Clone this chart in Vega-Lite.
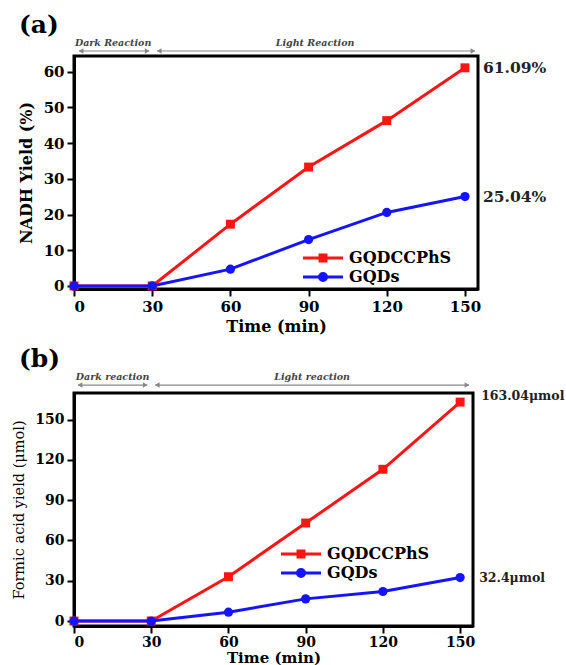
{
  "$schema": "https://vega.github.io/schema/vega-lite/v6.json",
  "background": "white",
  "padding": {"left": 10, "top": 11, "right": 0, "bottom": 0},
  "config": {
    "font": "DejaVu Serif",
    "view": {"stroke": "black", "strokeWidth": 3},
    "axis": {
      "labelFont": "DejaVu Serif", "labelFontWeight": "bold", "labelFontSize": 15, "labelColor": "black",
      "domainColor": "black", "domainWidth": 3, "tickColor": "black", "tickWidth": 2, "tickSize": 7,
      "grid": false, "titleFont": "DejaVu Serif", "titleFontWeight": "bold", "titleFontSize": 16,
      "titleColor": "black", "labelPadding": 3, "labelOverlap": false
    },
    "legend": {
      "orient": "none", "title": null, "padding": 0,
      "labelFont": "DejaVu Serif", "labelFontSize": 16, "labelFontWeight": "bold", "labelColor": "black",
      "symbolSize": 100, "labelOffset": 18, "rowPadding": 0, "symbolStrokeWidth": 3
    },
    "title": {"font": "DejaVu Serif", "fontSize": 25, "fontWeight": "bold", "anchor": "start", "frame": "group", "color": "black"}
  },
  "datasets": {
    "a": [
      {"time": 0, "yield": 0, "series": "GQDCCPhS"},
      {"time": 30, "yield": 0, "series": "GQDCCPhS"},
      {"time": 60, "yield": 17.3, "series": "GQDCCPhS"},
      {"time": 90, "yield": 33.3, "series": "GQDCCPhS"},
      {"time": 120, "yield": 46.3, "series": "GQDCCPhS"},
      {"time": 150, "yield": 61.09, "series": "GQDCCPhS"},
      {"time": 0, "yield": 0, "series": "GQDs"},
      {"time": 30, "yield": 0, "series": "GQDs"},
      {"time": 60, "yield": 4.7, "series": "GQDs"},
      {"time": 90, "yield": 13.0, "series": "GQDs"},
      {"time": 120, "yield": 20.6, "series": "GQDs"},
      {"time": 150, "yield": 25.04, "series": "GQDs"}
    ],
    "b": [
      {"time": 0, "yield": 0, "series": "GQDCCPhS"},
      {"time": 30, "yield": 0, "series": "GQDCCPhS"},
      {"time": 60, "yield": 33.0, "series": "GQDCCPhS"},
      {"time": 90, "yield": 73.0, "series": "GQDCCPhS"},
      {"time": 120, "yield": 113.0, "series": "GQDCCPhS"},
      {"time": 150, "yield": 163.04, "series": "GQDCCPhS"},
      {"time": 0, "yield": 0, "series": "GQDs"},
      {"time": 30, "yield": 0, "series": "GQDs"},
      {"time": 60, "yield": 6.6, "series": "GQDs"},
      {"time": 90, "yield": 16.5, "series": "GQDs"},
      {"time": 120, "yield": 22.0, "series": "GQDs"},
      {"time": 150, "yield": 32.4, "series": "GQDs"}
    ],
    "phaseA": [
      {"start": 0, "end": 30, "label": "Dark Reaction"},
      {"start": 30, "end": 155, "label": "Light Reaction"}
    ],
    "phaseB": [
      {"start": 0, "end": 30, "label": "Dark reaction"},
      {"start": 30, "end": 155, "label": "Light reaction"}
    ],
    "endA": [
      {"time": 150, "yield": 61.09, "label": "61.09%"},
      {"time": 150, "yield": 25.04, "label": "25.04%"}
    ],
    "endB": [
      {"time": 150, "yield": 163.04, "label": "163.04μmol"},
      {"time": 150, "yield": 32.4, "label": "32.4μmol"}
    ]
  },
  "spacing": 104,
  "bounds": "flush",
  "resolve": {
    "scale": {"fill": "independent", "stroke": "independent", "shape": "independent"},
    "legend": {"fill": "independent", "stroke": "independent", "shape": "independent"}
  },
  "vconcat": [
    {
      "width": 404,
      "height": 233,
      "title": {"text": "(a)", "dx": -55, "offset": 0},
      "layer": [
        {
          "data": {"name": "a"},
          "transform": [{"filter": "false"}],
          "mark": {"type": "point", "filled": true, "strokeWidth": 3, "opacity": 1},
          "encoding": {
            "x": {"field": "time", "type": "quantitative", "scale": {"domain": [0, 155], "nice": false},
                  "axis": {"values": [0, 30, 60, 90, 120, 150], "title": "Time (min)", "titlePadding": 4}},
            "y": {"field": "yield", "type": "quantitative", "scale": {"domain": [-0.85, 64.4], "nice": false, "zero": false},
                  "axis": {"values": [0, 10, 20, 30, 40, 50, 60], "title": "NADH Yield (%)", "titlePadding": 9}},
            "fill": {"field": "series", "type": "nominal", "scale": {"domain": ["GQDCCPhS", "GQDs"], "range": ["#ff1414", "#1414ff"]},
                     "legend": {"legendX": 241, "legendY": 194}},
            "stroke": {"field": "series", "type": "nominal", "scale": {"domain": ["GQDCCPhS", "GQDs"], "range": ["#ff1414", "#1414ff"]},
                       "legend": {"legendX": 241, "legendY": 194}},
            "shape": {"field": "series", "type": "nominal",
                      "scale": {"domain": ["GQDCCPhS", "GQDs"], "range": ["M-4,0H4M-0.6,-0.6H0.6V0.6H-0.6Z", "M-4,0H4M0.7,0A0.7,0.7,0,1,1,-0.7,0A0.7,0.7,0,1,1,0.7,0Z"]},
                      "legend": {"legendX": 241, "legendY": 194}}
          }
        },
        {
          "mark": {"type": "rule", "color": "#5b8fd6", "strokeDash": [2, 2], "strokeWidth": 2},
          "encoding": {"x": {"datum": 30, "type": "quantitative", "scale": {"domain": [0, 155], "nice": false},
                             "axis": {"values": [0, 30, 60, 90, 120, 150], "title": "Time (min)", "titlePadding": 4}}}
        },
        {
          "data": {"name": "phaseA"},
          "mark": {"type": "rule", "color": "#888888", "strokeWidth": 1.2, "xOffset": 5, "x2Offset": -3},
          "encoding": {
            "x": {"field": "start", "type": "quantitative", "scale": {"domain": [0, 155], "nice": false},
                  "axis": {"values": [0, 30, 60, 90, 120, 150], "title": "Time (min)", "titlePadding": 4}},
            "x2": {"field": "end"},
            "y": {"datum": 65.8, "type": "quantitative", "scale": {"domain": [-0.85, 64.4], "nice": false, "zero": false},
                  "axis": {"values": [0, 10, 20, 30, 40, 50, 60], "title": "NADH Yield (%)", "titlePadding": 9}}
          }
        },
        {
          "data": {"name": "phaseA"},
          "mark": {"type": "point", "shape": "triangle-left", "filled": true, "color": "#888888", "size": 30, "xOffset": 7, "opacity": 1},
          "encoding": {
            "x": {"field": "start", "type": "quantitative", "scale": {"domain": [0, 155], "nice": false},
                  "axis": {"values": [0, 30, 60, 90, 120, 150], "title": "Time (min)", "titlePadding": 4}},
            "y": {"datum": 65.8, "type": "quantitative", "scale": {"domain": [-0.85, 64.4], "nice": false, "zero": false},
                  "axis": {"values": [0, 10, 20, 30, 40, 50, 60], "title": "NADH Yield (%)", "titlePadding": 9}}
          }
        },
        {
          "data": {"name": "phaseA"},
          "mark": {"type": "point", "shape": "triangle-right", "filled": true, "color": "#888888", "size": 30, "xOffset": -5, "opacity": 1},
          "encoding": {
            "x": {"field": "end", "type": "quantitative", "scale": {"domain": [0, 155], "nice": false},
                  "axis": {"values": [0, 30, 60, 90, 120, 150], "title": "Time (min)", "titlePadding": 4}},
            "y": {"datum": 65.8, "type": "quantitative", "scale": {"domain": [-0.85, 64.4], "nice": false, "zero": false},
                  "axis": {"values": [0, 10, 20, 30, 40, 50, 60], "title": "NADH Yield (%)", "titlePadding": 9}}
          }
        },
        {
          "data": {"name": "phaseA"},
          "transform": [{"calculate": "(datum.start + datum.end) / 2", "as": "mid"}],
          "mark": {"type": "text", "font": "DejaVu Serif", "fontStyle": "italic", "fontWeight": "bold", "fontSize": 9.5, "color": "#444444", "baseline": "middle"},
          "encoding": {
            "x": {"field": "mid", "type": "quantitative", "scale": {"domain": [0, 155], "nice": false},
                  "axis": {"values": [0, 30, 60, 90, 120, 150], "title": "Time (min)", "titlePadding": 4}},
            "y": {"datum": 68.0, "type": "quantitative", "scale": {"domain": [-0.85, 64.4], "nice": false, "zero": false},
                  "axis": {"values": [0, 10, 20, 30, 40, 50, 60], "title": "NADH Yield (%)", "titlePadding": 9}},
            "text": {"field": "label"}
          }
        },
        {
          "data": {"name": "a"},
          "transform": [{"filter": "datum.series === 'GQDCCPhS'"}],
          "mark": {"type": "line", "strokeWidth": 3, "color": "#ff1414"},
          "encoding": {
            "x": {"field": "time", "type": "quantitative", "scale": {"domain": [0, 155], "nice": false},
                  "axis": {"values": [0, 30, 60, 90, 120, 150], "title": "Time (min)", "titlePadding": 4}},
            "y": {"field": "yield", "type": "quantitative", "scale": {"domain": [-0.85, 64.4], "nice": false, "zero": false},
                  "axis": {"values": [0, 10, 20, 30, 40, 50, 60], "title": "NADH Yield (%)", "titlePadding": 9}}
          }
        },
        {
          "data": {"name": "a"},
          "transform": [{"filter": "datum.series === 'GQDCCPhS'"}],
          "mark": {"type": "point", "shape": "square", "filled": true, "opacity": 1, "size": 80, "color": "#ff1414"},
          "encoding": {
            "x": {"field": "time", "type": "quantitative", "scale": {"domain": [0, 155], "nice": false},
                  "axis": {"values": [0, 30, 60, 90, 120, 150], "title": "Time (min)", "titlePadding": 4}},
            "y": {"field": "yield", "type": "quantitative", "scale": {"domain": [-0.85, 64.4], "nice": false, "zero": false},
                  "axis": {"values": [0, 10, 20, 30, 40, 50, 60], "title": "NADH Yield (%)", "titlePadding": 9}}
          }
        },
        {
          "data": {"name": "a"},
          "transform": [{"filter": "datum.series === 'GQDs'"}],
          "mark": {"type": "line", "strokeWidth": 3, "color": "#1414ff"},
          "encoding": {
            "x": {"field": "time", "type": "quantitative", "scale": {"domain": [0, 155], "nice": false},
                  "axis": {"values": [0, 30, 60, 90, 120, 150], "title": "Time (min)", "titlePadding": 4}},
            "y": {"field": "yield", "type": "quantitative", "scale": {"domain": [-0.85, 64.4], "nice": false, "zero": false},
                  "axis": {"values": [0, 10, 20, 30, 40, 50, 60], "title": "NADH Yield (%)", "titlePadding": 9}}
          }
        },
        {
          "data": {"name": "a"},
          "transform": [{"filter": "datum.series === 'GQDs'"}],
          "mark": {"type": "point", "shape": "circle", "filled": true, "opacity": 1, "size": 85, "color": "#1414ff"},
          "encoding": {
            "x": {"field": "time", "type": "quantitative", "scale": {"domain": [0, 155], "nice": false},
                  "axis": {"values": [0, 30, 60, 90, 120, 150], "title": "Time (min)", "titlePadding": 4}},
            "y": {"field": "yield", "type": "quantitative", "scale": {"domain": [-0.85, 64.4], "nice": false, "zero": false},
                  "axis": {"values": [0, 10, 20, 30, 40, 50, 60], "title": "NADH Yield (%)", "titlePadding": 9}}
          }
        },
        {
          "data": {"name": "endA"},
          "mark": {"type": "text", "align": "left", "baseline": "middle", "dx": 18, "font": "DejaVu Serif", "fontWeight": "bold", "fontSize": 15.5, "color": "#222222"},
          "encoding": {
            "x": {"field": "time", "type": "quantitative", "scale": {"domain": [0, 155], "nice": false},
                  "axis": {"values": [0, 30, 60, 90, 120, 150], "title": "Time (min)", "titlePadding": 4}},
            "y": {"field": "yield", "type": "quantitative", "scale": {"domain": [-0.85, 64.4], "nice": false, "zero": false},
                  "axis": {"values": [0, 10, 20, 30, 40, 50, 60], "title": "NADH Yield (%)", "titlePadding": 9}},
            "text": {"field": "label"}
          }
        }
      ]
    },
    {
      "width": 399,
      "height": 233,
      "title": {"text": "(b)", "dx": -55, "offset": 0},
      "layer": [
        {
          "data": {"name": "b"},
          "transform": [{"filter": "false"}],
          "mark": {"type": "point", "filled": true, "strokeWidth": 3, "opacity": 1},
          "encoding": {
            "x": {"field": "time", "type": "quantitative", "scale": {"domain": [0, 155], "nice": false},
                  "axis": {"values": [0, 30, 60, 90, 120, 150], "title": "Time (min)", "titlePadding": 1, "labelFontSize": 14, "titleFontSize": 15, "labelPadding": 2}},
            "y": {"field": "yield", "type": "quantitative", "scale": {"domain": [-3.7, 169.8], "nice": false, "zero": false},
                  "axis": {"values": [0, 30, 60, 90, 120, 150], "title": "Formic acid yield (μmol)", "titlePadding": 8, "labelFontSize": 14, "titleFontWeight": "normal", "titleFontSize": 14.5}},
            "fill": {"field": "series", "type": "nominal", "scale": {"domain": ["GQDCCPhS", "GQDs"], "range": ["#ff1414", "#1414ff"]},
                     "legend": {"legendX": 219, "legendY": 153}},
            "stroke": {"field": "series", "type": "nominal", "scale": {"domain": ["GQDCCPhS", "GQDs"], "range": ["#ff1414", "#1414ff"]},
                       "legend": {"legendX": 219, "legendY": 153}},
            "shape": {"field": "series", "type": "nominal",
                      "scale": {"domain": ["GQDCCPhS", "GQDs"], "range": ["M-4,0H4M-0.6,-0.6H0.6V0.6H-0.6Z", "M-4,0H4M0.7,0A0.7,0.7,0,1,1,-0.7,0A0.7,0.7,0,1,1,0.7,0Z"]},
                      "legend": {"legendX": 219, "legendY": 153}}
          }
        },
        {
          "mark": {"type": "rule", "color": "#5b8fd6", "strokeDash": [2, 2], "strokeWidth": 2},
          "encoding": {"x": {"datum": 30, "type": "quantitative", "scale": {"domain": [0, 155], "nice": false},
                             "axis": {"values": [0, 30, 60, 90, 120, 150], "title": "Time (min)", "titlePadding": 1, "labelFontSize": 14, "titleFontSize": 15, "labelPadding": 2}}}
        },
        {
          "data": {"name": "phaseB"},
          "mark": {"type": "rule", "color": "#888888", "strokeWidth": 1.2, "xOffset": 4, "x2Offset": -4},
          "encoding": {
            "x": {"field": "start", "type": "quantitative", "scale": {"domain": [0, 155], "nice": false},
                  "axis": {"values": [0, 30, 60, 90, 120, 150], "title": "Time (min)", "titlePadding": 1, "labelFontSize": 14, "titleFontSize": 15, "labelPadding": 2}},
            "x2": {"field": "end"},
            "y": {"datum": 175.7, "type": "quantitative", "scale": {"domain": [-3.7, 169.8], "nice": false, "zero": false},
                  "axis": {"values": [0, 30, 60, 90, 120, 150], "title": "Formic acid yield (μmol)", "titlePadding": 8, "labelFontSize": 14, "titleFontWeight": "normal", "titleFontSize": 14.5}}
          }
        },
        {
          "data": {"name": "phaseB"},
          "mark": {"type": "point", "shape": "triangle-left", "filled": true, "color": "#888888", "size": 30, "xOffset": 6, "opacity": 1},
          "encoding": {
            "x": {"field": "start", "type": "quantitative", "scale": {"domain": [0, 155], "nice": false},
                  "axis": {"values": [0, 30, 60, 90, 120, 150], "title": "Time (min)", "titlePadding": 1, "labelFontSize": 14, "titleFontSize": 15, "labelPadding": 2}},
            "y": {"datum": 175.7, "type": "quantitative", "scale": {"domain": [-3.7, 169.8], "nice": false, "zero": false},
                  "axis": {"values": [0, 30, 60, 90, 120, 150], "title": "Formic acid yield (μmol)", "titlePadding": 8, "labelFontSize": 14, "titleFontWeight": "normal", "titleFontSize": 14.5}}
          }
        },
        {
          "data": {"name": "phaseB"},
          "mark": {"type": "point", "shape": "triangle-right", "filled": true, "color": "#888888", "size": 30, "xOffset": -6, "opacity": 1},
          "encoding": {
            "x": {"field": "end", "type": "quantitative", "scale": {"domain": [0, 155], "nice": false},
                  "axis": {"values": [0, 30, 60, 90, 120, 150], "title": "Time (min)", "titlePadding": 1, "labelFontSize": 14, "titleFontSize": 15, "labelPadding": 2}},
            "y": {"datum": 175.7, "type": "quantitative", "scale": {"domain": [-3.7, 169.8], "nice": false, "zero": false},
                  "axis": {"values": [0, 30, 60, 90, 120, 150], "title": "Formic acid yield (μmol)", "titlePadding": 8, "labelFontSize": 14, "titleFontWeight": "normal", "titleFontSize": 14.5}}
          }
        },
        {
          "data": {"name": "phaseB"},
          "transform": [{"calculate": "(datum.start + datum.end) / 2", "as": "mid"}],
          "mark": {"type": "text", "font": "DejaVu Serif", "fontStyle": "italic", "fontWeight": "bold", "fontSize": 9.5, "color": "#444444", "baseline": "middle"},
          "encoding": {
            "x": {"field": "mid", "type": "quantitative", "scale": {"domain": [0, 155], "nice": false},
                  "axis": {"values": [0, 30, 60, 90, 120, 150], "title": "Time (min)", "titlePadding": 1, "labelFontSize": 14, "titleFontSize": 15, "labelPadding": 2}},
            "y": {"datum": 181.7, "type": "quantitative", "scale": {"domain": [-3.7, 169.8], "nice": false, "zero": false},
                  "axis": {"values": [0, 30, 60, 90, 120, 150], "title": "Formic acid yield (μmol)", "titlePadding": 8, "labelFontSize": 14, "titleFontWeight": "normal", "titleFontSize": 14.5}},
            "text": {"field": "label"}
          }
        },
        {
          "data": {"name": "b"},
          "transform": [{"filter": "datum.series === 'GQDCCPhS'"}],
          "mark": {"type": "line", "strokeWidth": 3, "color": "#ff1414"},
          "encoding": {
            "x": {"field": "time", "type": "quantitative", "scale": {"domain": [0, 155], "nice": false},
                  "axis": {"values": [0, 30, 60, 90, 120, 150], "title": "Time (min)", "titlePadding": 1, "labelFontSize": 14, "titleFontSize": 15, "labelPadding": 2}},
            "y": {"field": "yield", "type": "quantitative", "scale": {"domain": [-3.7, 169.8], "nice": false, "zero": false},
                  "axis": {"values": [0, 30, 60, 90, 120, 150], "title": "Formic acid yield (μmol)", "titlePadding": 8, "labelFontSize": 14, "titleFontWeight": "normal", "titleFontSize": 14.5}}
          }
        },
        {
          "data": {"name": "b"},
          "transform": [{"filter": "datum.series === 'GQDCCPhS'"}],
          "mark": {"type": "point", "shape": "square", "filled": true, "opacity": 1, "size": 80, "color": "#ff1414"},
          "encoding": {
            "x": {"field": "time", "type": "quantitative", "scale": {"domain": [0, 155], "nice": false},
                  "axis": {"values": [0, 30, 60, 90, 120, 150], "title": "Time (min)", "titlePadding": 1, "labelFontSize": 14, "titleFontSize": 15, "labelPadding": 2}},
            "y": {"field": "yield", "type": "quantitative", "scale": {"domain": [-3.7, 169.8], "nice": false, "zero": false},
                  "axis": {"values": [0, 30, 60, 90, 120, 150], "title": "Formic acid yield (μmol)", "titlePadding": 8, "labelFontSize": 14, "titleFontWeight": "normal", "titleFontSize": 14.5}}
          }
        },
        {
          "data": {"name": "b"},
          "transform": [{"filter": "datum.series === 'GQDs'"}],
          "mark": {"type": "line", "strokeWidth": 3, "color": "#1414ff"},
          "encoding": {
            "x": {"field": "time", "type": "quantitative", "scale": {"domain": [0, 155], "nice": false},
                  "axis": {"values": [0, 30, 60, 90, 120, 150], "title": "Time (min)", "titlePadding": 1, "labelFontSize": 14, "titleFontSize": 15, "labelPadding": 2}},
            "y": {"field": "yield", "type": "quantitative", "scale": {"domain": [-3.7, 169.8], "nice": false, "zero": false},
                  "axis": {"values": [0, 30, 60, 90, 120, 150], "title": "Formic acid yield (μmol)", "titlePadding": 8, "labelFontSize": 14, "titleFontWeight": "normal", "titleFontSize": 14.5}}
          }
        },
        {
          "data": {"name": "b"},
          "transform": [{"filter": "datum.series === 'GQDs'"}],
          "mark": {"type": "point", "shape": "circle", "filled": true, "opacity": 1, "size": 85, "color": "#1414ff"},
          "encoding": {
            "x": {"field": "time", "type": "quantitative", "scale": {"domain": [0, 155], "nice": false},
                  "axis": {"values": [0, 30, 60, 90, 120, 150], "title": "Time (min)", "titlePadding": 1, "labelFontSize": 14, "titleFontSize": 15, "labelPadding": 2}},
            "y": {"field": "yield", "type": "quantitative", "scale": {"domain": [-3.7, 169.8], "nice": false, "zero": false},
                  "axis": {"values": [0, 30, 60, 90, 120, 150], "title": "Formic acid yield (μmol)", "titlePadding": 8, "labelFontSize": 14, "titleFontWeight": "normal", "titleFontSize": 14.5}}
          }
        },
        {
          "data": {"name": "endB"},
          "transform": [{"filter": "datum.yield > 100"}],
          "mark": {"type": "text", "align": "left", "baseline": "middle", "dx": 21, "dy": -6, "font": "DejaVu Serif", "fontWeight": "bold", "fontSize": 12.5, "color": "#222222"},
          "encoding": {
            "x": {"field": "time", "type": "quantitative", "scale": {"domain": [0, 155], "nice": false},
                  "axis": {"values": [0, 30, 60, 90, 120, 150], "title": "Time (min)", "titlePadding": 1, "labelFontSize": 14, "titleFontSize": 15, "labelPadding": 2}},
            "y": {"field": "yield", "type": "quantitative", "scale": {"domain": [-3.7, 169.8], "nice": false, "zero": false},
                  "axis": {"values": [0, 30, 60, 90, 120, 150], "title": "Formic acid yield (μmol)", "titlePadding": 8, "labelFontSize": 14, "titleFontWeight": "normal", "titleFontSize": 14.5}},
            "text": {"field": "label"}
          }
        },
        {
          "data": {"name": "endB"},
          "transform": [{"filter": "datum.yield < 100"}],
          "mark": {"type": "text", "align": "left", "baseline": "middle", "dx": 19, "font": "DejaVu Serif", "fontWeight": "bold", "fontSize": 12.5, "color": "#222222"},
          "encoding": {
            "x": {"field": "time", "type": "quantitative", "scale": {"domain": [0, 155], "nice": false},
                  "axis": {"values": [0, 30, 60, 90, 120, 150], "title": "Time (min)", "titlePadding": 1, "labelFontSize": 14, "titleFontSize": 15, "labelPadding": 2}},
            "y": {"field": "yield", "type": "quantitative", "scale": {"domain": [-3.7, 169.8], "nice": false, "zero": false},
                  "axis": {"values": [0, 30, 60, 90, 120, 150], "title": "Formic acid yield (μmol)", "titlePadding": 8, "labelFontSize": 14, "titleFontWeight": "normal", "titleFontSize": 14.5}},
            "text": {"field": "label"}
          }
        }
      ]
    }
  ]
}
